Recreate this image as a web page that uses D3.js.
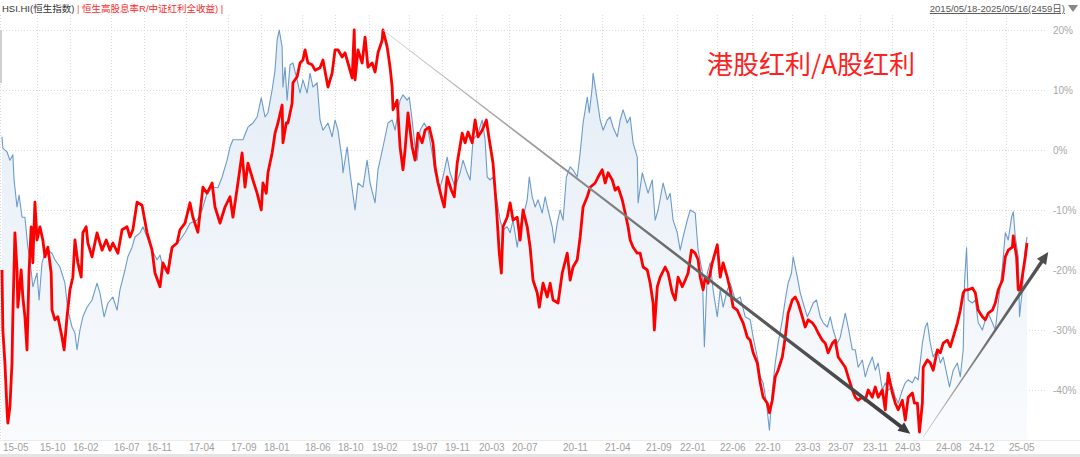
<!DOCTYPE html>
<html><head><meta charset="utf-8">
<script src="https://cdn.jsdelivr.net/npm/d3@7"></script>
<style>
html,body{margin:0;padding:0;background:#fff;}
svg{display:block;font-family:"Liberation Sans","Noto Sans CJK SC",sans-serif;}
</style></head>
<body><svg id="c" width="1080" height="457"></svg>
<script>
// ---- data: [trading-day index, % value] ----
const hsi = [[0,2.2],[2,0.3],[12,-0.3],[19,-1.7],[26,-0.8],[29,-5.0],[36,-9.5],[41,-7.5],[48,-11.2],[55,-11.2],[62,-16.2],[67,-18.3],[74,-22.8],[84,-20.5],[89,-25.0],[96,-18.8],[103,-17.2],[110,-16.7],[120,-17.2],[127,-18.3],[139,-19.5],[151,-22.2],[158,-26.7],[168,-29.5],[175,-30.5],[180,-33.3],[187,-30.0],[194,-27.8],[204,-26.2],[216,-25.0],[228,-22.2],[235,-23.8],[245,-27.8],[254,-25.5],[266,-24.5],[276,-26.7],[283,-23.3],[295,-20.0],[302,-17.8],[312,-16.2],[319,-14.5],[331,-13.8],[338,-12.8],[348,-14.5],[360,-16.7],[372,-18.3],[379,-17.5],[386,-19.5],[396,-20.5],[403,-17.2],[410,-16.2],[427,-15.0],[439,-13.8],[451,-12.2],[468,-11.7],[480,-10.0],[492,-7.2],[506,-6.2],[518,-6.3],[528,-4.5],[540,-1.7],[547,0.5],[554,1.7],[566,1.7],[578,1.7],[590,3.8],[602,4.5],[612,5.5],[622,8.7],[631,5.5],[638,6.2],[648,10.0],[655,13.3],[660,18.3],[665,20.0],[672,17.2],[674,10.5],[679,13.8],[684,8.3],[691,14.2],[698,14.5],[708,11.7],[715,9.5],[722,11.7],[732,9.5],[739,12.8],[746,10.5],[756,11.2],[763,5.0],[770,3.3],[782,4.5],[792,2.2],[799,5.0],[806,3.3],[816,-1.7],[818,-3.8],[828,0.5],[835,-3.8],[842,-7.5],[847,-10.0],[854,-5.5],[866,-6.2],[876,-1.7],[883,-5.5],[895,-8.8],[902,-3.3],[914,0.5],[926,4.5],[936,5.0],[943,3.3],[955,8.3],[962,9.2],[972,8.3],[977,8.8],[984,5.0],[991,0.5],[996,-1.7],[1003,3.3],[1013,4.5],[1022,3.3],[1032,-0.5],[1039,-3.8],[1051,-6.2],[1058,-4.5],[1068,-1.2],[1075,-3.8],[1087,-6.2],[1099,-3.8],[1106,-1.7],[1116,-3.8],[1123,-5.0],[1130,1.7],[1142,2.8],[1152,5.0],[1159,1.7],[1164,-4.5],[1171,-5.0],[1178,-4.5],[1188,-8.8],[1195,-11.7],[1202,-13.3],[1212,-12.8],[1219,-13.8],[1226,-11.7],[1236,-16.2],[1243,-12.8],[1250,-11.2],[1260,-8.3],[1265,-4.5],[1272,-7.8],[1279,-9.5],[1286,-8.3],[1296,-10.5],[1303,-7.8],[1310,-10.0],[1320,-12.8],[1325,-15.5],[1332,-12.2],[1339,-10.0],[1346,-11.7],[1354,-4.5],[1363,-2.8],[1370,-3.3],[1380,-4.5],[1387,-0.5],[1394,4.5],[1404,8.8],[1409,6.2],[1416,10.5],[1418,12.8],[1428,8.3],[1435,5.0],[1442,3.3],[1452,5.0],[1459,5.5],[1466,3.8],[1476,2.2],[1483,5.0],[1490,6.7],[1500,4.5],[1507,5.5],[1514,1.2],[1524,-1.2],[1526,-8.8],[1536,-3.8],[1543,-5.5],[1550,-7.2],[1560,-5.0],[1567,-11.7],[1574,-10.0],[1586,-5.5],[1596,-8.3],[1603,-7.2],[1610,-11.7],[1620,-13.8],[1627,-16.7],[1634,-14.5],[1644,-11.7],[1651,-10.0],[1663,-10.5],[1670,-16.7],[1680,-20.3],[1685,-32.8],[1692,-20.5],[1699,-18.8],[1706,-23.3],[1716,-27.8],[1723,-23.3],[1730,-26.2],[1740,-23.3],[1747,-22.2],[1759,-25.0],[1771,-24.5],[1783,-27.8],[1795,-28.3],[1802,-31.2],[1812,-34.5],[1819,-37.8],[1826,-38.8],[1834,-42.2],[1841,-46.7],[1848,-40.0],[1855,-35.5],[1862,-32.2],[1872,-28.3],[1879,-25.0],[1886,-22.2],[1894,-20.5],[1898,-17.8],[1908,-21.2],[1915,-23.8],[1922,-25.5],[1932,-27.8],[1939,-26.7],[1946,-25.5],[1954,-25.0],[1963,-27.8],[1970,-28.8],[1980,-29.5],[1987,-27.8],[1994,-30.0],[2004,-32.2],[2011,-31.2],[2023,-27.2],[2030,-29.5],[2040,-33.3],[2047,-33.3],[2054,-36.2],[2064,-35.0],[2071,-37.8],[2078,-36.2],[2088,-34.5],[2095,-36.7],[2102,-35.5],[2112,-40.0],[2119,-38.8],[2126,-40.0],[2136,-39.5],[2143,-41.2],[2150,-42.2],[2160,-40.0],[2167,-38.8],[2174,-38.3],[2184,-38.8],[2191,-37.8],[2198,-38.3],[2208,-32.2],[2215,-29.5],[2220,-28.8],[2227,-32.2],[2234,-34.5],[2244,-33.3],[2251,-35.5],[2258,-34.5],[2268,-37.8],[2273,-39.5],[2282,-36.7],[2292,-35.5],[2299,-37.8],[2306,-33.3],[2309,-22.2],[2314,-16.3],[2318,-25.0],[2328,-25.5],[2335,-25.0],[2342,-28.8],[2352,-30.0],[2359,-28.3],[2366,-27.2],[2376,-28.8],[2383,-30.0],[2390,-25.5],[2400,-19.5],[2407,-13.8],[2414,-15.0],[2422,-11.2],[2426,-10.3],[2431,-14.5],[2438,-17.8],[2441,-27.8],[2448,-23.3],[2453,-17.5],[2459,-14.5]];

const ratio = [[0,-20.0],[2,-30.0],[7,-35.5],[12,-43.3],[14,-45.5],[19,-42.8],[24,-35.5],[26,-27.8],[31,-13.8],[36,-20.0],[38,-26.2],[46,-20.0],[50,-24.5],[55,-27.8],[60,-33.3],[65,-20.0],[70,-12.8],[74,-18.8],[79,-8.7],[84,-15.0],[91,-12.8],[98,-15.0],[103,-17.8],[110,-16.2],[118,-20.5],[120,-26.7],[127,-28.3],[134,-27.8],[144,-31.2],[149,-33.3],[156,-27.8],[163,-23.3],[170,-21.2],[175,-15.0],[182,-18.8],[190,-21.2],[194,-13.8],[202,-12.8],[206,-15.5],[216,-17.8],[228,-13.8],[240,-16.7],[250,-15.0],[259,-16.7],[266,-15.5],[278,-17.2],[288,-13.3],[300,-12.8],[307,-14.5],[314,-13.3],[324,-8.7],[336,-9.2],[348,-13.8],[360,-16.7],[367,-20.5],[379,-22.8],[386,-18.8],[398,-20.5],[408,-16.2],[420,-15.5],[427,-13.3],[439,-12.2],[451,-8.8],[458,-11.2],[470,-13.7],[482,-6.2],[492,-7.2],[504,-5.5],[511,-9.5],[523,-12.2],[535,-9.5],[547,-7.8],[554,-11.2],[566,-5.5],[576,-0.5],[583,-6.2],[590,-2.2],[602,-5.0],[612,-7.2],[622,-10.0],[626,-5.5],[634,-7.2],[638,-3.8],[648,-0.5],[655,2.8],[662,4.5],[672,7.5],[674,1.2],[682,4.5],[686,4.5],[696,7.8],[698,11.2],[708,12.2],[715,14.5],[722,15.0],[727,16.7],[734,14.5],[744,14.2],[751,13.3],[763,13.7],[770,15.0],[782,10.5],[792,12.8],[799,16.7],[806,16.7],[816,15.5],[823,16.2],[830,14.5],[840,12.0],[845,20.0],[847,11.7],[854,16.7],[864,14.5],[871,18.8],[878,13.8],[888,14.5],[895,13.0],[902,16.2],[912,18.3],[914,20.0],[924,17.2],[931,13.8],[936,10.5],[938,6.7],[948,8.3],[955,0.5],[962,-3.3],[967,0.0],[974,6.2],[984,0.5],[991,-1.7],[998,2.8],[1008,1.2],[1015,3.3],[1025,3.8],[1034,1.2],[1039,-2.8],[1046,-5.5],[1056,-8.3],[1061,-9.5],[1068,-4.5],[1078,-6.7],[1085,-7.8],[1092,-2.2],[1104,2.8],[1111,1.2],[1118,3.0],[1128,1.2],[1135,5.0],[1142,2.2],[1152,3.3],[1162,5.0],[1169,1.7],[1178,-2.2],[1186,-9.5],[1193,-17.2],[1198,-20.5],[1202,-12.8],[1212,-11.2],[1219,-8.8],[1226,-11.7],[1236,-11.2],[1243,-15.0],[1250,-10.0],[1260,-12.8],[1267,-16.2],[1274,-21.7],[1284,-23.8],[1289,-26.2],[1298,-22.2],[1308,-24.5],[1315,-22.2],[1322,-25.0],[1334,-25.5],[1344,-20.5],[1356,-17.2],[1363,-21.7],[1370,-19.5],[1380,-18.3],[1387,-14.5],[1394,-9.5],[1404,-7.8],[1411,-6.2],[1423,-5.5],[1430,-4.5],[1440,-3.3],[1447,-5.5],[1454,-3.8],[1464,-5.0],[1471,-6.7],[1478,-6.2],[1488,-8.3],[1495,-10.5],[1502,-12.8],[1507,-15.0],[1514,-16.2],[1524,-17.2],[1531,-17.2],[1538,-19.5],[1548,-20.0],[1555,-22.2],[1562,-25.5],[1565,-30.0],[1572,-22.8],[1579,-21.2],[1591,-19.5],[1598,-20.5],[1608,-23.8],[1615,-25.0],[1622,-21.2],[1632,-22.8],[1639,-21.7],[1646,-20.5],[1654,-16.7],[1663,-17.2],[1670,-18.3],[1675,-21.2],[1682,-23.3],[1687,-21.2],[1694,-22.2],[1704,-18.8],[1716,-15.8],[1723,-21.2],[1730,-18.8],[1740,-21.2],[1747,-23.3],[1754,-26.2],[1764,-26.7],[1771,-27.8],[1778,-28.8],[1788,-31.2],[1795,-31.7],[1802,-33.8],[1812,-35.5],[1819,-38.8],[1826,-41.2],[1836,-42.2],[1841,-43.8],[1848,-41.7],[1855,-37.8],[1862,-36.7],[1872,-34.5],[1879,-31.2],[1886,-27.2],[1896,-25.0],[1903,-24.5],[1910,-25.5],[1920,-27.8],[1927,-29.5],[1934,-28.3],[1944,-28.8],[1951,-29.5],[1958,-30.5],[1968,-31.7],[1975,-32.2],[1982,-33.8],[1992,-32.2],[1999,-31.7],[2006,-34.5],[2016,-35.5],[2023,-36.2],[2030,-37.8],[2040,-40.0],[2047,-41.2],[2054,-41.7],[2064,-41.2],[2071,-41.7],[2078,-40.0],[2088,-41.2],[2095,-39.5],[2102,-41.2],[2112,-40.0],[2119,-43.3],[2126,-37.2],[2136,-40.5],[2143,-42.2],[2150,-43.3],[2160,-41.7],[2167,-45.0],[2174,-41.2],[2184,-40.5],[2189,-42.2],[2196,-42.2],[2201,-47.0],[2208,-42.2],[2210,-36.2],[2220,-35.0],[2227,-35.5],[2234,-36.7],[2244,-33.3],[2251,-33.8],[2258,-32.2],[2268,-31.7],[2275,-32.8],[2282,-31.2],[2292,-28.8],[2299,-26.7],[2306,-23.8],[2311,-23.3],[2318,-23.3],[2328,-23.0],[2335,-23.8],[2342,-26.7],[2352,-27.8],[2359,-28.3],[2366,-27.2],[2376,-26.7],[2383,-25.5],[2390,-23.3],[2400,-21.7],[2407,-17.8],[2414,-16.7],[2424,-16.2],[2426,-14.3],[2434,-17.8],[2438,-23.3],[2443,-23.3],[2450,-20.0],[2455,-17.8],[2459,-15.5]];

const xTickIdx = [0,89,168,266,346,446,547,626,725,804,886,982,1061,1142,1222,1344,1445,1543,1625,1721,1805,1901,1980,2062,2141,2239,2318,2414];
const xTickLabels = ["15-05","15-10","16-02","16-07","16-11","17-04","17-09","18-01","18-06","18-10","19-02","19-07","19-11","20-03","20-07","20-11","21-04","21-09","22-01","22-06","22-10","23-03","23-07","23-11","24-03","24-08","24-12","25-05"];
const yTicks = [20,10,0,-10,-20,-30,-40];
const headerParts = [
  {t:"HSI.HI(恒生指数)", c:"#333333"},
  {t:" | ", c:"#e8703a"},
  {t:"恒生高股息率R/中证红利全收益)", c:"#ff2a2a"},
  {t:" |", c:"#ff2a2a"}
];
const rangeLabel = "2015/05/18-2025/05/16(2459日)";
const noteLabel = "港股红利/A股红利";
// trend arrows: [index, value] start -> end
const arrows = [
  {from:[914,20.0], to:[2179,-47.3], w0:0.6, w1:4, c0:"#d0d0d0", c1:"#3c3c3c"},
  {from:[2210,-47.8], to:[2510,-17.0], w0:0.6, w1:3.6, c0:"#c8c8c8", c1:"#4a4a4a"}
];

const svg = d3.select("#c");
const x = d3.scaleLinear().domain([0,2459]).range([2,1027]);
const y = d3.scaleLinear().domain([-40,20]).range([390,30]);
const plotTop = 15, plotBottom = 440, gridRight = 1047;

const defs = svg.append("defs");
const ag = defs.append("linearGradient").attr("id","areaG").attr("gradientUnits","userSpaceOnUse")
  .attr("x1",0).attr("y1",30).attr("x2",0).attr("y2",plotBottom);
ag.append("stop").attr("offset",0).attr("stop-color","#e3ecf5");
ag.append("stop").attr("offset",1).attr("stop-color","#f9fbfd");

// grid
svg.append("g").selectAll("line").data(xTickIdx).join("line")
  .attr("x1",d=>Math.round(x(d))-1.5).attr("x2",d=>Math.round(x(d))-1.5)
  .attr("y1",plotTop).attr("y2",plotBottom)
  .attr("stroke","#dcdcdc").attr("stroke-dasharray","1,2");
svg.append("g").selectAll("line").data(yTicks).join("line")
  .attr("x1",0).attr("x2",gridRight)
  .attr("y1",d=>Math.round(y(d))+0.5).attr("y2",d=>Math.round(y(d))+0.5)
  .attr("stroke","#d8d8d8").attr("stroke-dasharray","1,2");

// area + lines
svg.append("path").datum(hsi)
  .attr("d", d3.area().x(d=>x(d[0])).y0(plotBottom).y1(d=>y(d[1])))
  .attr("fill","url(#areaG)");
svg.append("path").datum(hsi)
  .attr("d", d3.line().x(d=>x(d[0])).y(d=>y(d[1])))
  .attr("fill","none").attr("stroke","#6b9bcb").attr("stroke-width",1.1).attr("stroke-linejoin","round");
svg.append("path").datum(ratio)
  .attr("d", d3.line().x(d=>x(d[0])).y(d=>y(d[1])))
  .attr("fill","none").attr("stroke","#ff0000").attr("stroke-width",2.8).attr("stroke-linejoin","round");

// tapered arrows
arrows.forEach((a,i)=>{
  const x0=x(a.from[0]), y0=y(a.from[1]), x1=x(a.to[0]), y1=y(a.to[1]);
  const L=Math.hypot(x1-x0,y1-y0), ux=(x1-x0)/L, uy=(y1-y0)/L, nx=-uy, ny=ux;
  const hl=12, hw=5.5;
  const bx=x1-ux*hl, by=y1-uy*hl;
  const g=defs.append("linearGradient").attr("id","arG"+i).attr("gradientUnits","userSpaceOnUse")
    .attr("x1",x0).attr("y1",y0).attr("x2",x1).attr("y2",y1);
  g.append("stop").attr("offset",0).attr("stop-color",a.c0);
  g.append("stop").attr("offset",0.55).attr("stop-color","#6a6a6a");
  g.append("stop").attr("offset",1).attr("stop-color",a.c1);
  const pts=[[x0+nx*a.w0/2,y0+ny*a.w0/2],[bx+nx*a.w1/2,by+ny*a.w1/2],[bx+nx*hw,by+ny*hw],[x1,y1],
    [bx-nx*hw,by-ny*hw],[bx-nx*a.w1/2,by-ny*a.w1/2],[x0-nx*a.w0/2,y0-ny*a.w0/2]];
  svg.append("polygon").attr("points",pts.map(p=>p.join(",")).join(" ")).attr("fill","url(#arG"+i+")");
});

// axes frame
svg.append("line").attr("x1",0).attr("x2",1080).attr("y1",plotBottom+0.5).attr("y2",plotBottom+0.5).attr("stroke","#ececec");
svg.append("rect").attr("x",0).attr("y",454).attr("width",1080).attr("height",3).attr("fill","#e4e4e4");
svg.append("rect").attr("x",0).attr("y",30).attr("width",2).attr("height",53).attr("fill","#cfcfcf");

// x labels
svg.append("g").selectAll("text").data(xTickIdx).join("text")
  .attr("x",d=>Math.round(x(d))+1).attr("y",451)
  .attr("font-size",10).attr("fill","#a0a0a0").text((d,i)=>xTickLabels[i]);
// y labels
svg.append("g").selectAll("text").data(yTicks).join("text")
  .attr("x",1053).attr("y",d=>y(d)+3.5)
  .attr("font-size",10).attr("fill","#a8a8a8").text(d=>d+"%");

// header (one text, coloured tspans so nothing overlaps)
const hdr = svg.append("text").attr("x",2).attr("y",12).attr("font-size",9.5).attr("xml:space","preserve");
hdr.selectAll("tspan").data(headerParts).join("tspan").attr("fill",d=>d.c).style("white-space","pre").text(d=>d.t);

const rng = svg.append("text").attr("x",1065).attr("y",12).attr("font-size",9.5).attr("fill","#555")
  .attr("text-anchor","end").attr("text-decoration","underline").text(rangeLabel);
svg.append("path").attr("d","M1068,5 L1078,5 L1073,12 Z").attr("fill","#888");

// annotation
svg.append("text").attr("x",707).attr("y",74).attr("font-size",26)
  .attr("font-family","'Noto Sans CJK SC',sans-serif").attr("fill","#ff2020").text(noteLabel);
</script></body></html>
